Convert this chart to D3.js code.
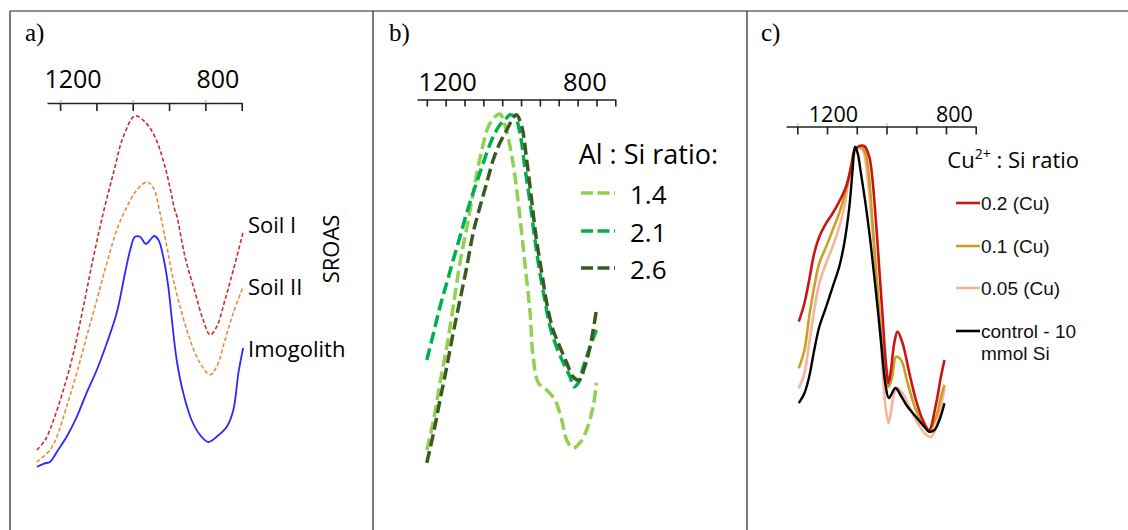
<!DOCTYPE html>
<html><head><meta charset="utf-8">
<script src="https://cdn.jsdelivr.net/npm/d3@7"></script>
<style>body{margin:0;background:#fff;} svg{display:block}</style>
</head><body>
<svg id="chart" width="1128" height="530"></svg>
<script>
// ================= DATA =================
const panelLabels = ["a)", "b)", "c)"];
const axisLabelValues = [1200, 800];

// panel a : wavenumber (cm-1), absorbance (a.u.)
const aTicks = [1200, 1100, 1000, 900, 800, 700];
const aMinorTicks = [1200, 1000, 800];
const aNames = ["Soil I", "Soil II", "Imogolith"];
const aSideLabel = "SROAS";
const soilI = [[1264,0.050],[1241,0.075],[1218,0.125],[1191,0.200],[1163,0.293],[1136,0.408],[1108,0.533],[1081,0.643],[1053,0.743],[1026,0.833],[994,0.885],[966,0.870],[939,0.833],[911,0.758],[884,0.650],[878,0.633],[856,0.533],[828,0.443],[806,0.375],[787,0.338],[769,0.358],[746,0.425],[723,0.500],[696,0.595]];
const soilII = [[1264,0.020],[1228,0.050],[1209,0.083],[1182,0.158],[1154,0.243],[1127,0.333],[1099,0.425],[1071,0.518],[1044,0.600],[1016,0.658],[989,0.700],[960,0.720],[943,0.705],[925,0.643],[906,0.558],[888,0.475],[865,0.393],[842,0.325],[815,0.268],[787,0.238],[769,0.258],[746,0.325],[723,0.393],[696,0.458]];
const imogolith = [[1264,0.008],[1244,0.016],[1228,0.020],[1219,0.030],[1209,0.045],[1182,0.083],[1154,0.133],[1127,0.193],[1099,0.250],[1071,0.318],[1044,0.393],[1021,0.493],[1007,0.550],[994,0.583],[980,0.583],[964,0.565],[952,0.575],[941,0.585],[929,0.575],[916,0.533],[902,0.458],[893,0.383],[879,0.275],[861,0.193],[838,0.125],[815,0.088],[792,0.070],[769,0.083],[741,0.108],[723,0.150],[709,0.243],[696,0.305]];

// panel b
const bTicks = [1250, 1200, 1150, 1100, 1050, 1000, 950, 900, 850, 800, 750];
const bLegendTitle = "Al : Si ratio:";
const bNames = ["1.4", "2.1", "2.6"];
const ratio14 = [[1250,0.050],[1232,0.125],[1215,0.218],[1197,0.308],[1180,0.408],[1162,0.518],[1140,0.625],[1122,0.718],[1104,0.800],[1087,0.858],[1069,0.883],[1056,0.890],[1043,0.863],[1029,0.808],[1016,0.733],[1003,0.633],[990,0.518],[976,0.393],[968,0.283],[954,0.218],[932,0.200],[910,0.175],[892,0.125],[879,0.075],[862,0.055],[844,0.068],[826,0.100],[809,0.158],[800,0.218]];
const ratio21 = [[1250,0.275],[1232,0.343],[1215,0.408],[1197,0.468],[1180,0.525],[1162,0.583],[1144,0.643],[1127,0.693],[1109,0.743],[1091,0.793],[1074,0.833],[1056,0.863],[1043,0.875],[1029,0.888],[1016,0.883],[1003,0.843],[990,0.758],[976,0.668],[963,0.575],[950,0.493],[937,0.425],[923,0.358],[906,0.308],[888,0.268],[870,0.233],[860,0.208],[848,0.218],[835,0.258],[817,0.308],[800,0.350]];
const ratio26 = [[1250,0.018],[1232,0.093],[1215,0.175],[1197,0.258],[1180,0.343],[1162,0.425],[1144,0.508],[1127,0.593],[1109,0.658],[1091,0.718],[1074,0.775],[1056,0.818],[1038,0.850],[1021,0.880],[1012,0.888],[998,0.858],[985,0.775],[972,0.675],[959,0.575],[945,0.493],[932,0.418],[915,0.350],[897,0.308],[879,0.268],[862,0.233],[846,0.225],[831,0.258],[817,0.308],[800,0.400]];

// panel c
const cTicks = [1300, 1200, 1100, 1000, 900, 800, 700];
const cMinorTicks = [1300, 1000];
const cLegendTitle = ["Cu", "2+", " : Si ratio"];
const cNames = ["0.2 (Cu)", "0.1 (Cu)", "0.05 (Cu)", "control - 10|mmol Si"];
const cu02 = [[1295,0.371],[1276,0.417],[1260,0.475],[1243,0.542],[1226,0.583],[1203,0.617],[1181,0.642],[1159,0.671],[1136,0.708],[1119,0.758],[1108,0.800],[1097,0.808],[1075,0.810],[1058,0.783],[1047,0.725],[1035,0.617],[1024,0.500],[1013,0.383],[1002,0.267],[993,0.217],[985,0.250],[974,0.317],[963,0.346],[946,0.317],[923,0.242],[901,0.175],[878,0.125],[857,0.100],[833,0.167],[817,0.233],[805,0.275]];
const cu01 = [[1295,0.254],[1276,0.300],[1260,0.383],[1243,0.458],[1226,0.517],[1203,0.558],[1181,0.600],[1159,0.642],[1136,0.700],[1114,0.775],[1102,0.804],[1086,0.808],[1071,0.792],[1058,0.725],[1047,0.617],[1035,0.500],[1022,0.375],[1007,0.267],[993,0.208],[981,0.233],[968,0.283],[951,0.275],[929,0.217],[901,0.150],[878,0.117],[857,0.096],[833,0.133],[817,0.183],[805,0.213]];
const cu005 = [[1295,0.204],[1276,0.242],[1260,0.317],[1243,0.400],[1226,0.467],[1203,0.517],[1181,0.558],[1159,0.608],[1142,0.658],[1125,0.733],[1108,0.792],[1094,0.804],[1080,0.800],[1067,0.750],[1052,0.642],[1038,0.517],[1024,0.383],[1013,0.250],[1002,0.150],[993,0.117],[984,0.150],[974,0.192],[963,0.204],[946,0.192],[923,0.158],[895,0.117],[867,0.088],[850,0.083],[833,0.108],[817,0.158],[805,0.204]];
const control = [[1295,0.167],[1276,0.192],[1260,0.233],[1243,0.300],[1226,0.358],[1203,0.408],[1181,0.458],[1159,0.508],[1142,0.567],[1125,0.658],[1114,0.750],[1106,0.808],[1097,0.792],[1086,0.742],[1069,0.658],[1052,0.558],[1035,0.442],[1018,0.317],[1004,0.217],[992,0.180],[970,0.205],[951,0.185],[929,0.158],[901,0.133],[873,0.108],[857,0.096],[839,0.100],[822,0.125],[805,0.167]];

// ================= LAYOUT / STYLE =================
const W = 1128, H = 530;
const svg = d3.select("#chart");
const sans = "'Open Sans', sans-serif";
const arial = "'Liberation Sans', Arial, sans-serif";
const serif = "'Liberation Serif', 'Times New Roman', serif";

// frame
const frame = svg.append("g").attr("stroke", "#222").attr("stroke-width", 1.2);
frame.append("line").attr("x1", 10).attr("x2", W).attr("y1", 11).attr("y2", 11);
[10, 373, 747].forEach(xv => frame.append("line").attr("x1", xv).attr("x2", xv).attr("y1", 11).attr("y2", H));

// panel labels
[[25, 41], [389, 41], [761, 41]].forEach((p, i) =>
  svg.append("text").attr("x", p[0]).attr("y", p[1]).attr("font-family", serif)
     .attr("font-size", 25).attr("fill", "#000").text(panelLabels[i]));

const y = d3.scaleLinear().domain([0, 1]).range([470, 70]);
const curve = d3.curveCatmullRom.alpha(0.5);

function drawAxis(x, ticks, minor, axisY, tickLen, labelY, labelSize, labelDx) {
  const g = svg.append("g").attr("transform", `translate(0,${axisY})`);
  g.call(d3.axisBottom(x).tickValues(ticks).tickSize(tickLen).tickSizeOuter(0).tickFormat(""));
  g.select(".domain").attr("stroke", "#222").attr("stroke-width", 1.6);
  g.selectAll(".tick line").attr("stroke", "#222").attr("stroke-width", 1.6);
  if (minor) {
    const gm = svg.append("g").attr("transform", `translate(0,${axisY - 1})`);
    gm.call(d3.axisTop(x).tickValues(minor).tickSize(2).tickSizeOuter(0).tickFormat(""));
    gm.select(".domain").remove();
    gm.selectAll(".tick line").attr("stroke", "#bbb").attr("stroke-width", 1.5);
  }
  axisLabelValues.forEach((v, i) =>
    svg.append("text").attr("x", x(v) + labelDx[i]).attr("y", labelY)
      .attr("text-anchor", "middle").attr("font-family", sans).attr("font-size", labelSize)
      .attr("fill", "#000").text(v));
}

function drawLine(x, data, color, width, dash) {
  const line = d3.line().x(d => x(d[0])).y(d => y(d[1])).curve(curve);
  svg.append("path").datum(data).attr("d", line).attr("fill", "none")
    .attr("stroke", color).attr("stroke-width", width)
    .attr("stroke-dasharray", dash || null).attr("stroke-linejoin", "round");
}

// ---------- panel a ----------
const xa = d3.scaleLinear().domain([1236, 700]).range([47, 241.7]);
drawAxis(xa, aTicks, aMinorTicks, 103, 8, 88, 25, [13, 12.6]);
const aColors = ["#d02828", "#f0883a", "#2a2aff"];
drawLine(xa, soilI, aColors[0], 1.6, "4 2.4");
drawLine(xa, soilII, aColors[1], 1.6, "4 2.4");
drawLine(xa, imogolith, aColors[2], 1.8, null);
[[248, 233], [248, 295], [248, 357]].forEach((p, i) =>
  svg.append("text").attr("x", p[0]).attr("y", p[1]).attr("font-family", sans)
    .attr("font-size", 22).attr("fill", "#000").text(aNames[i]));
svg.append("text").attr("transform", "translate(330,249) rotate(-90)")
  .attr("text-anchor", "middle").attr("dominant-baseline", "central")
  .attr("font-family", sans).attr("font-size", 22).attr("fill", "#000").text(aSideLabel);

// ---------- panel b ----------
const xb = d3.scaleLinear().domain([1276, 750]).range([417, 615.3]);
drawAxis(xb, bTicks, null, 99.5, 7, 91, 25.5, [2, -11.6]);
const bColors = ["#92d050", "#00b050", "#3a5a22"];
drawLine(xb, ratio14, bColors[0], 3.5, "12 5");
drawLine(xb, ratio21, bColors[1], 3.5, "12 5");
drawLine(xb, ratio26, bColors[2], 3.5, "12 5");
svg.append("text").attr("x", 578.7).attr("y", 164).attr("font-family", sans)
  .attr("font-size", 27).attr("fill", "#000").text(bLegendTitle);
[193, 231, 268].forEach((ly, i) => {
  svg.append("line").attr("x1", 581).attr("x2", 615).attr("y1", ly).attr("y2", ly)
    .attr("stroke", bColors[i]).attr("stroke-width", 3.5).attr("stroke-dasharray", "12 4.5");
  svg.append("text").attr("x", 630).attr("y", ly + 11).attr("font-family", sans)
    .attr("font-size", 26).attr("fill", "#000").text(bNames[i]);
});

// ---------- panel c ----------
const xc = d3.scaleLinear().domain([1338, 700]).range([786, 975.7]);
drawAxis(xc, cTicks, cMinorTicks, 126.5, 8, 122, 21.5, [6.4, 8.4]);
const cColors = ["#cc1414", "#c9a020", "#f7b39e", "#000000"];
drawLine(xc, cu005, cColors[2], 2.6, null);
drawLine(xc, cu01, cColors[1], 2.6, null);
drawLine(xc, cu02, cColors[0], 2.6, null);
drawLine(xc, control, cColors[3], 2.4, null);
const ct = svg.append("text").attr("x", 947.3).attr("y", 168).attr("font-family", sans)
  .attr("font-size", 22).attr("fill", "#000");
ct.append("tspan").text(cLegendTitle[0]);
ct.append("tspan").attr("font-size", 14).attr("dy", -9).text(cLegendTitle[1]);
ct.append("tspan").attr("dy", 9).text(cLegendTitle[2]);
[203, 246, 288, 331].forEach((ly, i) => {
  svg.append("line").attr("x1", 956).attr("x2", 980).attr("y1", ly).attr("y2", ly)
    .attr("stroke", cColors[i]).attr("stroke-width", 2.6);
  const parts = cNames[i].split("|");
  parts.forEach((t, k) =>
    svg.append("text").attr("x", 981).attr("y", ly + 6.5 + k * 22).attr("font-family", arial)
      .attr("font-size", 19).attr("fill", "#111").text(t));
});
</script>
</body></html>
